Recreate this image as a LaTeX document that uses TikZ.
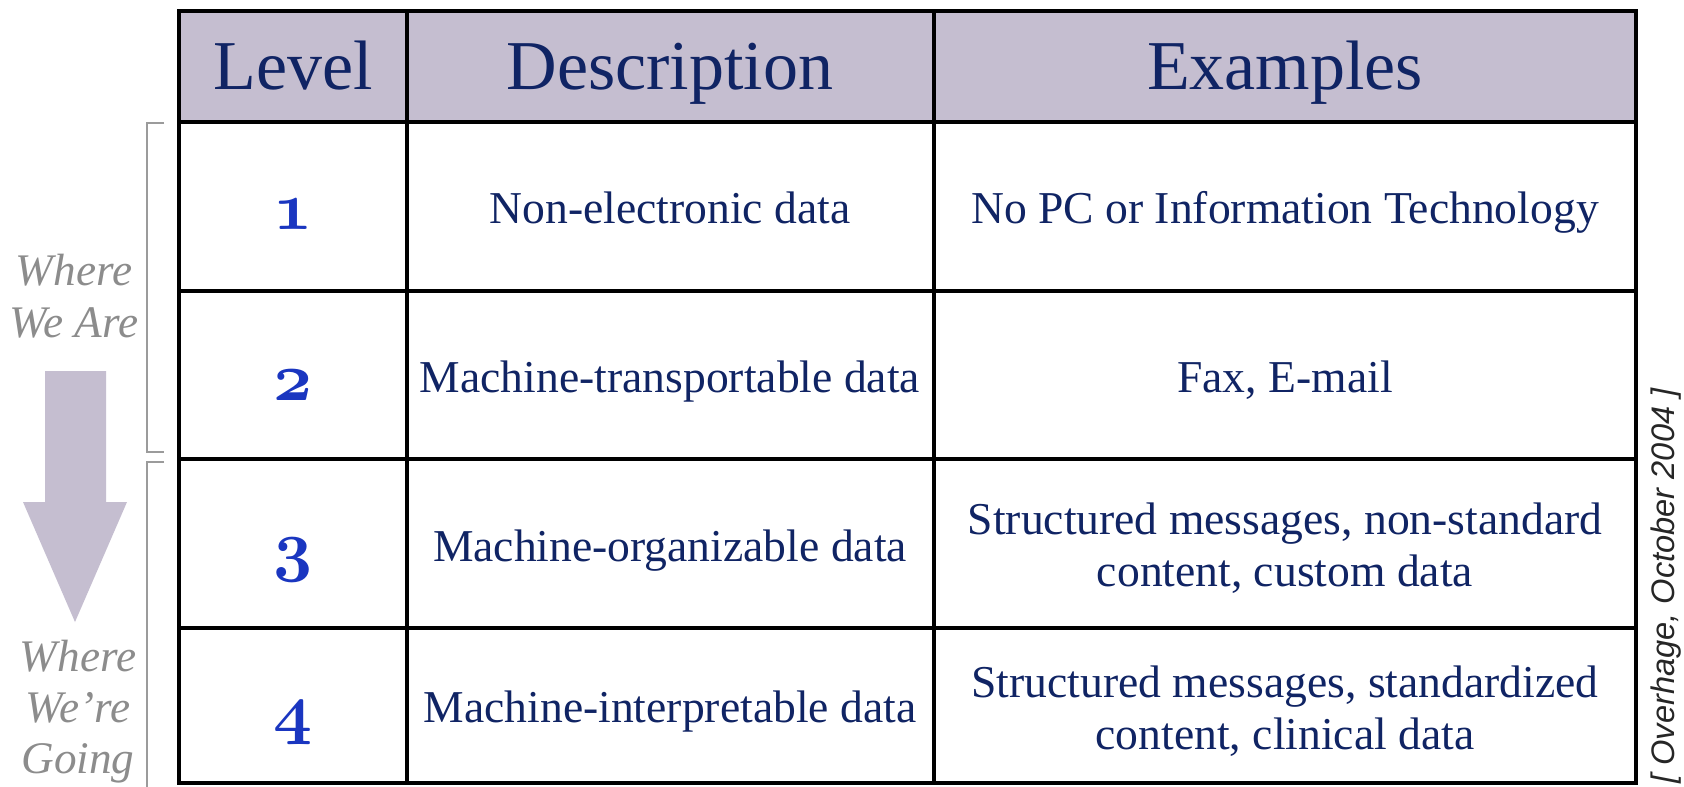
\RequirePackage{fix-cm}
\documentclass[tikz,border=0pt]{standalone}
\usepackage{fontspec}
\setmainfont{Liberation Serif}
\newfontfamily\citefont{Liberation Sans}
\definecolor{navy}{RGB}{16,36,100}
\definecolor{headfill}{RGB}{197,190,208}
\definecolor{arrowfill}{RGB}{197,190,208}
\definecolor{lvlblue}{RGB}{26,54,192}
\definecolor{graytext}{RGB}{140,140,140}
\definecolor{bracketgray}{RGB}{155,155,155}
\begin{document}
\begin{tikzpicture}[x=0.5pt,y=-0.5pt,
  body/.style={font=\fontsize{22.8}{26}\selectfont,text=navy,inner sep=0pt,align=center,anchor=base},
  head/.style={font=\fontsize{35}{40}\selectfont,text=navy,inner sep=0pt,anchor=base},
  lvl/.style={font=\fontsize{34}{40}\usefont{OML}{cmm}{b}{it},text=lvlblue,inner sep=0pt,anchor=base},
  side/.style={font=\fontsize{22.6}{26}\selectfont\itshape,text=graytext,inner sep=0pt,align=center,anchor=base},
  gridline/.style={line width=1.8pt,draw=black},
  bracketline/.style={line width=1pt,draw=bracketgray}]
\useasboundingbox (0,0) rectangle (1684,786);
\fill[white] (0,0) rectangle (1684,786);
% header fill
\fill[headfill] (179,11) rectangle (1636,122);
% grid
\draw[gridline] (179,11) rectangle (1636,783);
\foreach \yy in {122,291,459,628} \draw[gridline] (179,\yy) -- (1636,\yy);
\foreach \xx in {407,934} \draw[gridline] (\xx,11) -- (\xx,783);
% header
\node[head] (hlevel) at (293,90) {Level};
\node[head] (hdesc) at (670,90) {Description};
\node[head] (hex) at (1285,90) {Examples};
% levels
\node[lvl] (l1) at (293,229) {1};
\node[lvl] (l2) at (293,400) {2};
\node[lvl] (l3) at (293,568) {3};
\node[lvl] (l4) at (293,731) {4};
% descriptions
\node[body] (d1) at (670,223) {Non-electronic data};
\node[body] (d2) at (670,392) {Machine-transportable data};
\node[body] (d3) at (670,561) {Machine-organizable data};
\node[body] (d4) at (670,722) {Machine-interpretable data};
% examples (base anchor = last line baseline)
\node[body] (e1) at (1285,223) {No PC or Information Technology};
\node[body] (e2) at (1285,392) {Fax, E-mail};
\node[body] (e3) at (1285,586) {Structured messages, non-standard\\content, custom data};
\node[body] (e4) at (1285,749) {Structured messages, standardized\\content, clinical data};
% side arrow
\fill[arrowfill] (45,371) -- (106,371) -- (106,502) -- (127,502) -- (75,622) -- (23,502) -- (45,502) -- cycle;
% brackets
\draw[bracketline] (164,123) -- (147,123) -- (147,452) -- (164,452);
\draw[bracketline] (164,462) -- (147,462) -- (147,790);
% side texts
\node[side] (weare) at (74,337) {Where\\We Are};
\node[side,font=\fontsize{22.6}{25.5}\selectfont\itshape] (wegoing) at (78,773) {Where\\We’re\\Going};
% citation
\node[font=\citefont\itshape\fontsize{16.3}{18}\selectfont,text=black!85,inner sep=0pt,rotate=90,anchor=base] (cite) at (1674,586) {[ Overhage, October 2004 ]};
\end{tikzpicture}
\end{document}
